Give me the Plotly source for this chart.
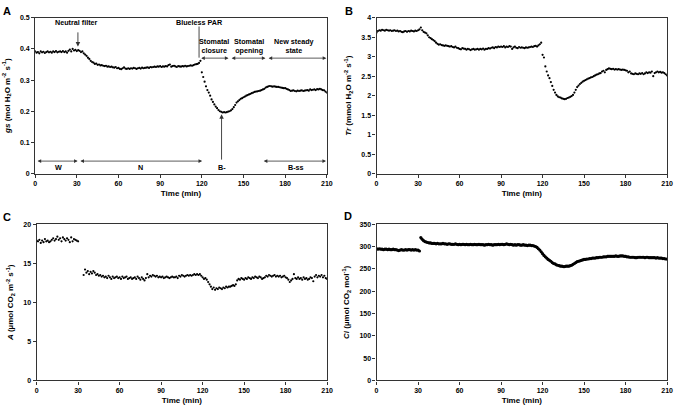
import plotly.graph_objects as go

time_min = list(range(0, 211))

gs = [
    0.392,0.388,0.39,0.386,0.392,0.389,0.391,0.387,0.39,0.392,
    0.389,0.391,0.388,0.392,0.39,0.393,0.389,0.391,0.392,0.39,
    0.393,0.39,0.392,0.388,0.394,0.398,0.392,0.4,0.395,0.397,
    0.393,0.396,0.394,0.39,0.392,0.386,0.382,0.378,0.372,0.368,
    0.362,0.358,0.356,0.352,0.353,0.349,0.35,0.347,0.348,0.346,
    0.345,0.346,0.343,0.344,0.342,0.343,0.341,0.34,0.342,0.338,
    0.339,0.336,0.335,0.338,0.341,0.337,0.336,0.338,0.336,0.338,
    0.337,0.339,0.338,0.336,0.338,0.339,0.337,0.34,0.338,0.339,
    0.34,0.341,0.339,0.342,0.341,0.342,0.343,0.342,0.344,0.343,
    0.345,0.342,0.344,0.343,0.345,0.344,0.348,0.35,0.343,0.345,
    0.346,0.344,0.342,0.345,0.344,0.343,0.345,0.344,0.346,0.344,
    0.345,0.346,0.347,0.346,0.348,0.35,0.351,0.352,0.355,0.362,
    0.325,0.31,0.295,0.28,0.268,0.26,0.25,0.238,0.23,0.222,
    0.215,0.21,0.204,0.2,0.198,0.196,0.197,0.196,0.197,0.199,
    0.2,0.203,0.207,0.213,0.22,0.228,0.232,0.236,0.24,0.242,
    0.245,0.247,0.25,0.252,0.254,0.256,0.258,0.26,0.262,0.263,
    0.264,0.265,0.266,0.268,0.27,0.272,0.276,0.278,0.28,0.281,
    0.28,0.279,0.28,0.279,0.278,0.278,0.277,0.276,0.275,0.274,
    0.274,0.272,0.27,0.268,0.265,0.266,0.267,0.265,0.264,0.266,
    0.265,0.266,0.267,0.265,0.266,0.267,0.268,0.266,0.27,0.268,
    0.269,0.27,0.268,0.271,0.27,0.272,0.27,0.268,0.267,0.263,0.26,
]

tr = [
    3.62,3.66,3.68,3.67,3.69,3.68,3.67,3.69,3.68,3.67,
    3.68,3.66,3.67,3.68,3.66,3.67,3.65,3.66,3.64,3.63,
    3.65,3.66,3.64,3.66,3.65,3.67,3.66,3.65,3.67,3.66,
    3.68,3.7,3.75,3.68,3.64,3.62,3.6,3.55,3.5,3.48,
    3.45,3.43,3.4,3.36,3.33,3.31,3.32,3.3,3.29,3.28,
    3.29,3.28,3.27,3.26,3.27,3.25,3.24,3.26,3.23,3.22,
    3.2,3.19,3.22,3.21,3.2,3.18,3.2,3.19,3.17,3.19,
    3.2,3.18,3.19,3.2,3.18,3.2,3.19,3.21,3.18,3.2,
    3.2,3.22,3.21,3.23,3.24,3.22,3.25,3.24,3.26,3.25,
    3.26,3.25,3.27,3.24,3.26,3.25,3.27,3.26,3.2,3.24,
    3.26,3.23,3.22,3.25,3.23,3.24,3.23,3.22,3.24,3.23,
    3.24,3.25,3.26,3.25,3.27,3.28,3.26,3.29,3.32,3.36,
    3.05,2.98,2.75,2.62,2.52,2.45,2.35,2.25,2.15,2.08,
    2.02,1.98,1.96,1.95,1.93,1.92,1.91,1.92,1.94,1.95,
    1.97,1.99,2.02,2.08,2.15,2.22,2.26,2.3,2.33,2.36,
    2.38,2.4,2.42,2.44,2.45,2.47,2.48,2.5,2.52,2.54,
    2.55,2.57,2.58,2.62,2.64,2.6,2.66,2.68,2.7,2.69,
    2.68,2.69,2.67,2.68,2.67,2.68,2.67,2.66,2.67,2.66,
    2.65,2.64,2.6,2.62,2.57,2.56,2.55,2.57,2.56,2.55,
    2.57,2.56,2.58,2.55,2.57,2.6,2.58,2.6,2.59,2.62,
    2.5,2.58,2.6,2.62,2.6,2.61,2.59,2.6,2.58,2.55,2.52,
]

a_photo = [
    17.9,17.8,18.0,17.6,17.9,17.7,18.1,17.8,17.9,17.7,
    17.8,18.0,18.2,17.9,18.1,18.4,18.0,18.2,17.8,18.3,
    18.1,17.9,18.2,18.0,17.7,18.3,17.8,18.1,18.0,17.9,
    17.8,None,None,None,13.5,14.2,13.8,14.0,13.6,13.9,
    13.7,14.0,13.8,13.5,13.6,13.4,13.5,13.3,13.4,13.2,
    13.3,13.1,13.4,13.2,13.0,13.3,13.1,13.2,13.3,13.1,
    13.2,13.0,13.3,13.1,13.2,13.3,13.0,13.1,13.2,13.0,
    13.1,13.2,13.0,13.3,13.1,12.9,13.2,13.0,12.8,13.1,
    13.6,13.2,13.4,13.3,13.5,13.4,13.3,13.4,13.2,13.3,
    13.2,13.3,13.1,13.2,13.3,13.2,13.1,13.2,13.3,13.2,
    13.2,13.3,13.1,13.4,13.3,13.5,13.4,13.3,13.4,13.5,
    13.4,13.5,13.4,13.5,13.6,13.5,13.6,13.5,13.6,13.4,
    13.2,13.0,13.1,12.9,12.6,12.3,12.0,11.7,11.9,11.6,
    11.8,11.7,11.9,11.8,11.7,11.9,11.8,12.0,11.9,12.0,
    12.0,12.1,12.2,12.1,12.3,12.8,13.0,12.9,13.1,13.0,
    12.9,13.1,13.0,13.2,13.1,13.0,13.2,13.1,13.3,13.2,
    13.1,13.3,13.2,13.0,13.1,13.2,13.4,13.3,13.5,13.4,
    13.3,13.4,13.5,13.3,13.4,13.3,13.4,13.2,13.3,13.4,
    13.2,13.1,12.9,12.6,12.8,13.0,13.6,13.1,13.0,13.2,
    13.0,13.1,12.9,13.2,13.0,13.1,12.9,13.0,13.2,13.1,
    12.7,13.3,13.5,13.2,13.4,13.3,13.5,13.2,13.4,13.1,13.0,
]

ci = [
    295,294,295,294,294,293,294,294,293,294,
    293,293,294,293,293,292,291,292,293,292,
    292,293,292,293,293,292,293,292,293,292,
    292,290,320,316,313,311,310,309,308,308,
    307,307,307,306,307,306,306,306,307,306,
    306,305,306,306,305,305,305,306,305,304,
    305,304,305,305,304,305,304,304,305,304,
    304,305,304,304,305,304,304,304,303,304,
    304,305,304,304,303,304,304,304,305,304,
    305,305,304,305,306,305,304,305,304,303,
    304,303,304,304,303,303,304,303,303,302,
    303,303,302,302,301,300,298,295,292,288,
    284,280,277,274,271,269,267,264,262,261,
    259,258,257,256,256,255,255,256,256,256,
    257,258,260,262,264,266,267,268,269,270,
    271,271,272,272,273,273,274,274,274,275,
    275,276,276,276,277,277,277,278,278,278,
    278,278,278,279,278,278,279,279,279,278,
    278,277,277,276,276,276,276,275,275,276,
    276,276,276,276,275,276,276,275,275,275,
    275,275,274,275,274,274,274,273,273,272,272,
]

x_ticks = [0, 30, 60, 90, 120, 150, 180, 210]

# Panel A annotation data
phase_top_labels = ["Stomatal<br>closure", "Stomatal<br>opening", "New steady<br>state"]
phase_top_x = [129, 154, 186]
phase_top_spans = [(118.5, 139.2), (140.4, 165.8), (167, 209.6)]
phase_bot_labels = ["W", "N", "B-", "B-ss"]
phase_bot_x = [16.5, 75.8, 134.6, 188]
phase_bot_spans = [(0.7, 30.6), (31.5, 120.2), (163.5, 209.4)]

FONT = "Arial, Liberation Sans, sans-serif"
AX_COLOR = "#333333"

fig = go.Figure()
marker_small = dict(color="black", size=2.2)
fig.add_trace(go.Scatter(x=time_min, y=gs, mode="markers", marker=marker_small, xaxis="x", yaxis="y", showlegend=False))
fig.add_trace(go.Scatter(x=time_min, y=tr, mode="markers", marker=marker_small, xaxis="x2", yaxis="y2", showlegend=False))
fig.add_trace(go.Scatter(x=time_min, y=a_photo, mode="markers", marker=marker_small, xaxis="x3", yaxis="y3", showlegend=False))
fig.add_trace(go.Scatter(x=time_min, y=ci, mode="markers", marker=dict(color="black", size=3.2), xaxis="x4", yaxis="y4", showlegend=False))

tickfont = dict(family=FONT, size=7, color="black", weight="bold")
titlefont = dict(family=FONT, size=8, color="black", weight="bold")

def xax(domain, anchor):
    return dict(domain=domain, anchor=anchor, range=[0, 210], tickvals=x_ticks,
                showline=True, linecolor=AX_COLOR, linewidth=1.2, mirror=True,
                ticks="outside", ticklen=3, tickcolor=AX_COLOR, tickwidth=1,
                showgrid=False, zeroline=False, tickfont=tickfont,
                title=dict(text="Time (min)", font=titlefont, standoff=4))

def yax(domain, anchor, rng, dtick, title):
    return dict(domain=domain, anchor=anchor, range=rng, dtick=dtick, tick0=0,
                showline=True, linecolor=AX_COLOR, linewidth=1.2, mirror=True,
                ticks="outside", ticklen=3, tickcolor=AX_COLOR, tickwidth=1,
                showgrid=False, zeroline=False, tickfont=tickfont,
                title=dict(text=title, font=titlefont, standoff=8))

top = [0.5803, 0.9659]
bot = [0.0681, 0.4550]
left_a = [0.0493, 0.4834]
left_c = [0.0515, 0.4838]
right = [0.5574, 0.9897]

fig.update_layout(
    width=680, height=411,
    margin=dict(l=0, r=0, t=0, b=0),
    paper_bgcolor="white", plot_bgcolor="white",
    font=dict(family=FONT, color="black"),
    xaxis=xax(left_a, "y"),
    yaxis=yax(top, "x", [0, 0.5], 0.1, "<i>gs</i> (mol H<sub>2</sub>O m<sup>-2</sup> s<sup>-1</sup>)"),
    xaxis2=xax(right, "y2"),
    yaxis2=yax(top, "x2", [0, 4], 0.5, "<i>Tr</i> (mmol H<sub>2</sub>O m<sup>-2</sup> s<sup>-1</sup>)"),
    xaxis3=xax(left_c, "y3"),
    yaxis3=yax(bot, "x3", [0, 20], 5, "<i>A</i> (µmol CO<sub>2</sub> m<sup>-2</sup> s<sup>-1</sup>)"),
    xaxis4=xax(right, "y4"),
    yaxis4=yax(bot, "x4", [0, 350], 50, "<i>Ci</i> (µmol CO<sub>2</sub> mol<sup>-1</sup>)"),
)

annots = []
# panel letters
for letter, px, py in [("A", 0.0074, 0.983), ("B", 0.516, 0.983), ("C", 0.0074, 0.472), ("D", 0.515, 0.4745)]:
    annots.append(dict(text=letter, x=px, y=py, xref="paper", yref="paper", showarrow=False,
                       font=dict(family=FONT, size=11, color="black", weight="bold"),
                       xanchor="center", yanchor="middle"))

afont = dict(family=FONT, size=7.2, color="black", weight="bold")
ARC = "#333333"

# Neutral filter
annots.append(dict(text="Neutral filter", x=29.6, y=0.484, xref="x", yref="y", showarrow=False, font=afont))
annots.append(dict(text="", x=30.8, y=0.408, ax=30.8, ay=0.458, xref="x", yref="y", axref="x", ayref="y",
                   showarrow=True, arrowhead=2, arrowsize=1, arrowwidth=0.9, arrowcolor=ARC))
# Blueless PAR
annots.append(dict(text="Blueless PAR", x=118, y=0.484, xref="x", yref="y", showarrow=False, font=afont))

# top phase labels and arrows
for lab, lx in zip(phase_top_labels, phase_top_x):
    annots.append(dict(text=lab, x=lx, y=0.411, xref="x", yref="y", showarrow=False, font=afont))
for (x0, x1) in phase_top_spans:
    annots.append(dict(text="", x=x1, y=0.3705, ax=x0, ay=0.3705, xref="x", yref="y", axref="x", ayref="y",
                       showarrow=True, arrowhead=2, startarrowhead=2, arrowside="end+start",
                       arrowsize=0.9, startarrowsize=0.9, arrowwidth=0.8, arrowcolor=ARC))
# bottom phase labels and arrows
for lab, lx in zip(phase_bot_labels, phase_bot_x):
    annots.append(dict(text=lab, x=lx, y=0.021, xref="x", yref="y", showarrow=False, font=afont))
for (x0, x1) in phase_bot_spans:
    annots.append(dict(text="", x=x1, y=0.04, ax=x0, ay=0.04, xref="x", yref="y", axref="x", ayref="y",
                       showarrow=True, arrowhead=2, startarrowhead=2, arrowside="end+start",
                       arrowsize=0.9, startarrowsize=0.9, arrowwidth=0.8, arrowcolor=ARC))
# B- upward arrow
annots.append(dict(text="", x=134.2, y=0.19, ax=134.2, ay=0.04, xref="x", yref="y", axref="x", ayref="y",
                   showarrow=True, arrowhead=2, arrowsize=1, arrowwidth=0.9, arrowcolor=ARC))

fig.update_layout(annotations=annots)

fig.add_shape(type="line", x0=118, x1=118, y0=0.372, y1=0.472, xref="x", yref="y",
              line=dict(color=ARC, width=0.9))

fig.write_html("out.html", config={"displayModeBar": False},
               post_script="document.body.style.margin='0';document.body.style.overflow='hidden';")
